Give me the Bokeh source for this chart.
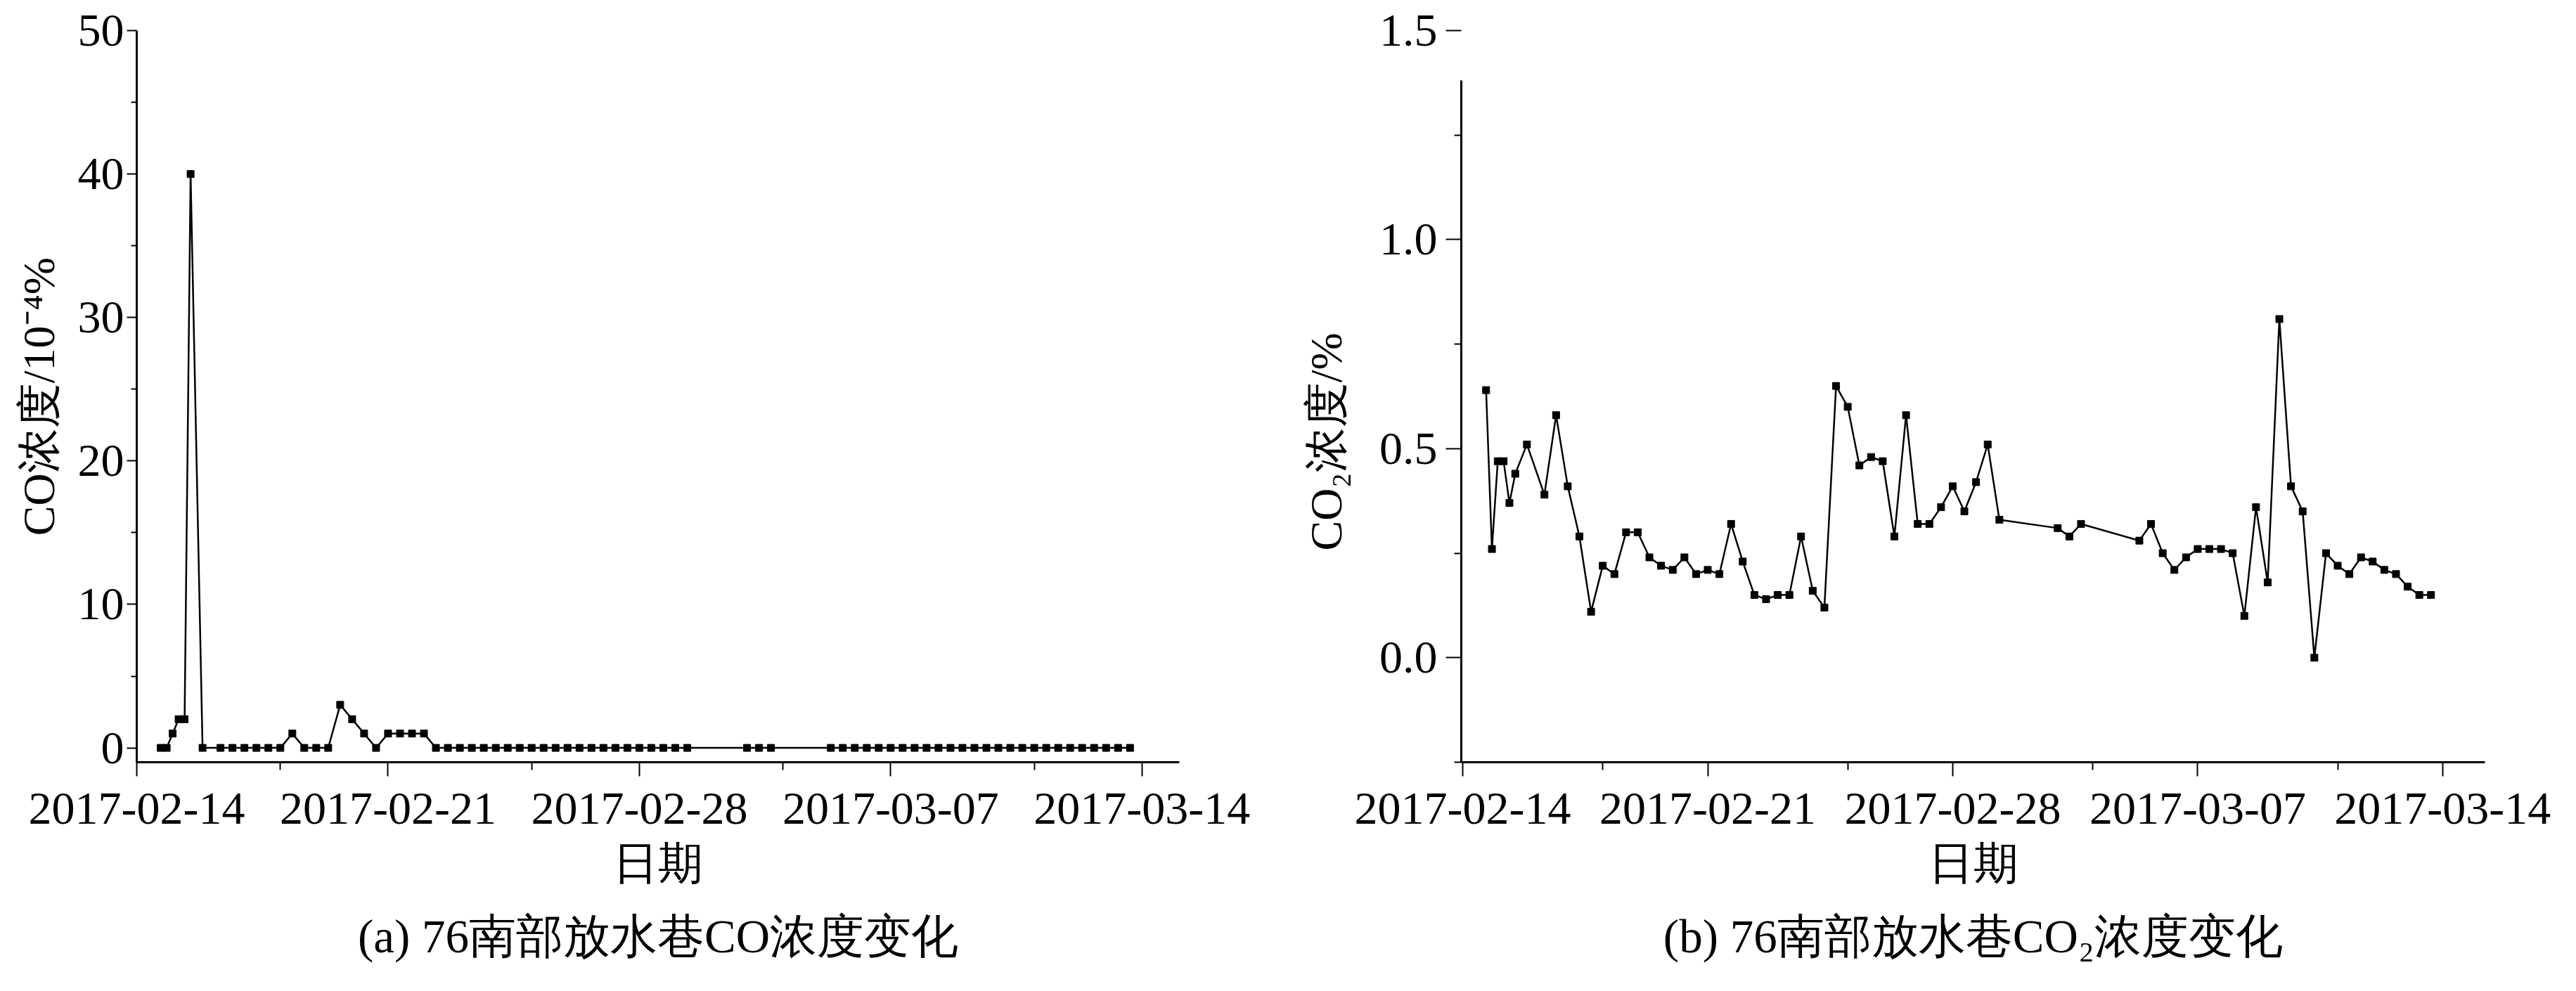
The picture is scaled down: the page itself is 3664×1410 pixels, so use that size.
import pandas as pd
from bokeh.plotting import figure
from bokeh.layouts import row
from bokeh.models import (Range1d, FixedTicker, DatetimeTickFormatter, Title, ColumnDataSource,
                          LinearAxis, PrintfTickFormatter)
from bokeh.embed import file_html
from bokeh.resources import INLINE

# ---------------- data ----------------
sample_times = [
    "2017-02-14 16:00", "2017-02-14 20:00", "2017-02-15 00:00", "2017-02-15 04:00",
    "2017-02-15 08:00", "2017-02-15 12:00", "2017-02-15 20:00",
    "2017-02-16 08:00", "2017-02-16 16:00",
    "2017-02-17 00:00", "2017-02-17 08:00", "2017-02-17 16:00",
    "2017-02-18 00:00", "2017-02-18 08:00", "2017-02-18 16:00",
    "2017-02-19 00:00", "2017-02-19 08:00", "2017-02-19 16:00",
    "2017-02-20 00:00", "2017-02-20 08:00", "2017-02-20 16:00",
    "2017-02-21 00:00", "2017-02-21 08:00", "2017-02-21 16:00",
    "2017-02-22 00:00", "2017-02-22 08:00", "2017-02-22 16:00",
    "2017-02-23 00:00", "2017-02-23 08:00", "2017-02-23 16:00",
    "2017-02-24 00:00", "2017-02-24 08:00", "2017-02-24 16:00",
    "2017-02-25 00:00", "2017-02-25 08:00", "2017-02-25 16:00",
    "2017-02-26 00:00", "2017-02-26 08:00", "2017-02-26 16:00",
    "2017-02-27 00:00", "2017-02-27 08:00", "2017-02-27 16:00",
    "2017-02-28 00:00", "2017-02-28 08:00", "2017-02-28 16:00",
    "2017-03-01 00:00", "2017-03-01 08:00",
    "2017-03-03 00:00", "2017-03-03 08:00", "2017-03-03 16:00",
    "2017-03-05 08:00", "2017-03-05 16:00",
    "2017-03-06 00:00", "2017-03-06 08:00", "2017-03-06 16:00",
    "2017-03-07 00:00", "2017-03-07 08:00", "2017-03-07 16:00",
    "2017-03-08 00:00", "2017-03-08 08:00", "2017-03-08 16:00",
    "2017-03-09 00:00", "2017-03-09 08:00", "2017-03-09 16:00",
    "2017-03-10 00:00", "2017-03-10 08:00", "2017-03-10 16:00",
    "2017-03-11 00:00", "2017-03-11 08:00", "2017-03-11 16:00",
    "2017-03-12 00:00", "2017-03-12 08:00", "2017-03-12 16:00",
    "2017-03-13 00:00", "2017-03-13 08:00", "2017-03-13 16:00",
]

co_values = [
    0, 0, 1, 2, 2, 40, 0,
    0, 0,
    0, 0, 0,
    0, 1, 0,
    0, 0, 3,
    2, 1, 0,
    1, 1, 1,
    1, 0, 0,
    0, 0, 0,
    0, 0, 0,
    0, 0, 0,
    0, 0, 0,
    0, 0, 0,
    0, 0, 0,
    0, 0,
    0, 0, 0,
    0, 0,
    0, 0, 0,
    0, 0, 0,
    0, 0, 0,
    0, 0, 0,
    0, 0, 0,
    0, 0, 0,
    0, 0, 0,
    0, 0, 0,
]

co2_values = [
    0.64, 0.26, 0.47, 0.47, 0.37, 0.44, 0.51,
    0.39, 0.58,
    0.41, 0.29, 0.11,
    0.22, 0.20, 0.30,
    0.30, 0.24, 0.22,
    0.21, 0.24, 0.20,
    0.21, 0.20, 0.32,
    0.23, 0.15, 0.14,
    0.15, 0.15, 0.29,
    0.16, 0.12, 0.65,
    0.60, 0.46, 0.48,
    0.47, 0.29, 0.58,
    0.32, 0.32, 0.36,
    0.41, 0.35, 0.42,
    0.51, 0.33,
    0.31, 0.29, 0.32,
    0.28, 0.32,
    0.25, 0.21, 0.24,
    0.26, 0.26, 0.26,
    0.25, 0.10, 0.36,
    0.18, 0.81, 0.41,
    0.35, 0.00, 0.25,
    0.22, 0.20, 0.24,
    0.23, 0.21, 0.20,
    0.17, 0.15, 0.15,
]

x_major_ticks = ["2017-02-14", "2017-02-21", "2017-02-28", "2017-03-07", "2017-03-14"]
x_minor_ticks = ["2017-02-18", "2017-02-25", "2017-03-04", "2017-03-11"]

co_y_ticks = [0, 10, 20, 30, 40, 50]
co_y_minor = [5, 15, 25, 35, 45]
co2_y_ticks = [0.0, 0.5, 1.0, 1.5]
co2_y_minor = [-0.25, 0.25, 0.75, 1.25]
co2_axis_line_span = (-0.25, 1.38)

x_label = "日期"
co_ylabel = "CO浓度/10⁻⁴%"
co2_ylabel = "CO₂浓度/%"
co_caption = "(a) 76南部放水巷CO浓度变化"
co2_caption = "(b) 76南部放水巷CO₂浓度变化"

# ---------------- helpers ----------------
def ms(s):
    return pd.Timestamp(s).value / 1e6

times = pd.to_datetime(sample_times)
SERIF = "Liberation Serif"
TICK_SIZE = "66px"
LABEL_SIZE = "64px"
CAPTION_SIZE = "67px"

fmt = DatetimeTickFormatter(
    milliseconds="%Y-%m-%d", seconds="%Y-%m-%d", minsec="%Y-%m-%d", minutes="%Y-%m-%d",
    hourmin="%Y-%m-%d", hours="%Y-%m-%d", days="%Y-%m-%d", months="%Y-%m-%d", years="%Y-%m-%d",
    strip_leading_zeros=False,
)


def style_axis(ax):
    ax.axis_line_width = 3
    ax.axis_line_color = "black"
    ax.major_tick_line_width = 2
    ax.minor_tick_line_width = 2
    ax.major_tick_in = 0
    ax.minor_tick_in = 0
    ax.major_label_text_font = SERIF
    ax.major_label_text_font_size = TICK_SIZE
    ax.major_label_text_color = "black"
    ax.axis_label_text_font = SERIF
    ax.axis_label_text_font_size = LABEL_SIZE
    ax.axis_label_text_font_style = "normal"
    ax.axis_label_text_color = "black"


def style_common(p):
    p.background_fill_color = "white"
    p.border_fill_color = "white"
    p.outline_line_color = None
    p.xgrid.visible = False
    p.ygrid.visible = False
    xa = p.xaxis[0]
    style_axis(xa)
    xa.ticker = FixedTicker(ticks=[ms(t) for t in x_major_ticks],
                            minor_ticks=[ms(t) for t in x_minor_ticks])
    xa.formatter = fmt
    xa.major_tick_out = 20
    xa.minor_tick_out = 11
    xa.major_label_standoff = 24
    xa.axis_label = x_label
    xa.axis_label_standoff = 18


def add_caption(p, text):
    p.add_layout(Title(text=text, align="center", text_font=SERIF,
                       text_font_size=CAPTION_SIZE, text_font_style="normal",
                       text_color="black", standoff=52), "below")


TOTAL_H = 1394
W1 = 1790
W2 = 3648 - W1

# ---------------- (a) CO ----------------
src_co = ColumnDataSource(dict(t=times, v=co_values))
p1 = figure(width=W1, height=TOTAL_H, x_axis_type="datetime", output_backend="svg",
            toolbar_location=None,
            x_range=Range1d(ms("2017-02-14 00:00"), ms("2017-03-15 01:00")),
            y_range=Range1d(-1, 50),
            min_border_left=194, min_border_right=W1 - 1677,
            min_border_top=43, min_border_bottom=TOTAL_H - 1089)
style_common(p1)
ya = p1.yaxis[0]
style_axis(ya)
ya.ticker = FixedTicker(ticks=co_y_ticks, minor_ticks=co_y_minor)
ya.major_tick_out = 14
ya.minor_tick_out = 8
ya.major_label_standoff = 4
ya.axis_label = co_ylabel
ya.axis_label_standoff = 17
p1.line("t", "v", source=src_co, line_color="black", line_width=2.5)
p1.scatter("t", "v", source=src_co, marker="square", size=10,
           fill_color="black", line_color="black")
add_caption(p1, co_caption)

# ---------------- (b) CO2 ----------------
src_co2 = ColumnDataSource(dict(t=times, v=co2_values))
p2 = figure(width=W2, height=TOTAL_H, x_axis_type="datetime", output_backend="svg",
            toolbar_location=None, y_axis_location=None,
            x_range=Range1d(ms("2017-02-13 23:00"), ms("2017-03-15 05:00")),
            y_range=Range1d(co2_axis_line_span[0], co2_y_ticks[-1]),
            min_border_left=288, min_border_right=W2 - 1744,
            min_border_top=28, min_border_bottom=TOTAL_H - 1088)
style_common(p2)

# inner axis: only the axis line, which stops short of the top tick (as in the original)
line_axis = LinearAxis(ticker=FixedTicker(ticks=[], minor_ticks=[]), bounds=co2_axis_line_span)
style_axis(line_axis)
line_axis.major_tick_out = 0
line_axis.minor_tick_out = 0
line_axis.major_label_standoff = 0
p2.add_layout(line_axis, "left")

# outer axis: ticks and tick labels, no line
tick_axis = LinearAxis(ticker=FixedTicker(ticks=co2_y_ticks, minor_ticks=co2_y_minor),
                       formatter=PrintfTickFormatter(format="%.1f"))
style_axis(tick_axis)
tick_axis.axis_line_color = None
tick_axis.major_tick_out = 22
tick_axis.minor_tick_out = 10
tick_axis.major_label_standoff = 12
p2.add_layout(tick_axis, "left")

# y title, placed a little lower than centre as in the original
p2.add_layout(Title(text=co2_ylabel, align="left", offset=301, text_font=SERIF,
                    text_font_size=LABEL_SIZE, text_font_style="normal",
                    text_color="black", standoff=73), "left")

p2.line("t", "v", source=src_co2, line_color="black", line_width=2.5)
p2.scatter("t", "v", source=src_co2, marker="square", size=10,
           fill_color="black", line_color="black")
add_caption(p2, co2_caption)

layout = row(p1, p2, spacing=0)
open("out.html", "w").write(file_html(layout, INLINE))
